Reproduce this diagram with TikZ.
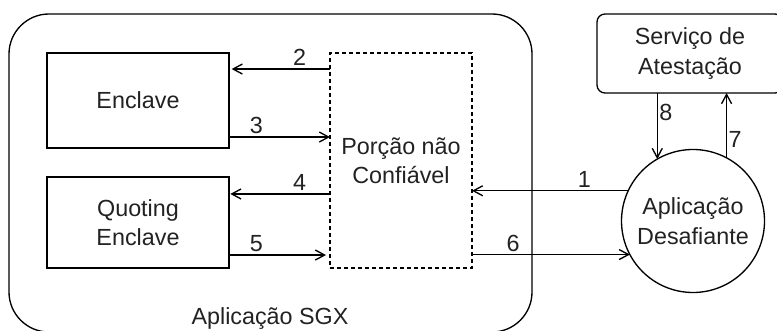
\documentclass[tikz,border=0pt]{standalone}
\usepackage{fontspec}
\setmainfont{Liberation Sans}
\usetikzlibrary{arrows.meta}
\definecolor{txtgray}{RGB}{34,34,34}

\begin{document}
\begin{tikzpicture}[x=0.75pt, y=-0.75pt, line width=1pt,
    caixa/.style={draw, minimum width=136.5pt, align=center, outer sep=0pt, font=\fontsize{17.5}{22}\selectfont, text=txtgray},
    seta/.style={-{Straight Barb[length=7pt, width=7.5pt]}},
    num/.style={font=\fontsize{17.5}{22}\selectfont, text=txtgray, inner sep=2pt}]
  \useasboundingbox (0,0) rectangle (777,331);

  \node[caixa, rounded corners=30pt, minimum width=392.25pt, minimum height=238.5pt] (sgx) at (270.5,173) {};
  \node[num, anchor=base] (sgxnome) at (270,324) {Aplicação SGX};

  \node[caixa, minimum height=71.25pt] (encl) at (138,100.5) {Enclave};
  \node[caixa, minimum height=68.25pt] (quot) at (138,222.5) {Quoting\\Enclave};
  \node[caixa, dash pattern=on 3pt off 2.25pt, minimum width=106.5pt, minimum height=161.25pt] (naoconf) at (401,160.5) {Porção não\\Confiável};
  \node[caixa, rounded corners=6pt, minimum width=139.5pt, minimum height=59.25pt] (serv) at (690,53.5) {Serviço de\\Atestação};
  \node[caixa, circle, minimum size=107.25pt, inner sep=0pt] (desaf) at (693,221) {Aplicação\\Desafiante};

  \draw[seta] (desaf.155) -- (desaf.155 -| naoconf.east) node[num, pos=0.28, above] {1};
  \draw[seta, shorten >=2pt] ([yshift=23.6pt]encl.east -| naoconf.west) -- ([yshift=23.6pt]encl.east) node[num, pos=0.3, above] {2};
  \draw[seta] ([yshift=-27.4pt]encl.east) -- ([yshift=-27.4pt]encl.east -| naoconf.west) node[num, pos=0.27, above] {3};
  \draw[seta, shorten >=1pt] ([yshift=21.4pt]quot.east -| naoconf.west) -- ([yshift=21.4pt]quot.east) node[num, pos=0.3, above] {4};
  \draw[seta, shorten >=3pt] ([yshift=-24.4pt]quot.east) -- ([yshift=-24.4pt]quot.east -| naoconf.west) node[num, pos=0.27, above] {5};
  \draw[seta] (desaf.208 -| naoconf.east) -- (desaf.208) node[num, pos=0.26, above] {6};
  \draw[seta] (desaf.62) -- (desaf.62 |- serv.south) node[num, pos=0.28, right, inner sep=1pt] {7};
  \draw[seta] (desaf.120 |- serv.south) -- (desaf.120) node[num, pos=0.29, right, inner sep=1pt] {8};
\end{tikzpicture}
\end{document}
